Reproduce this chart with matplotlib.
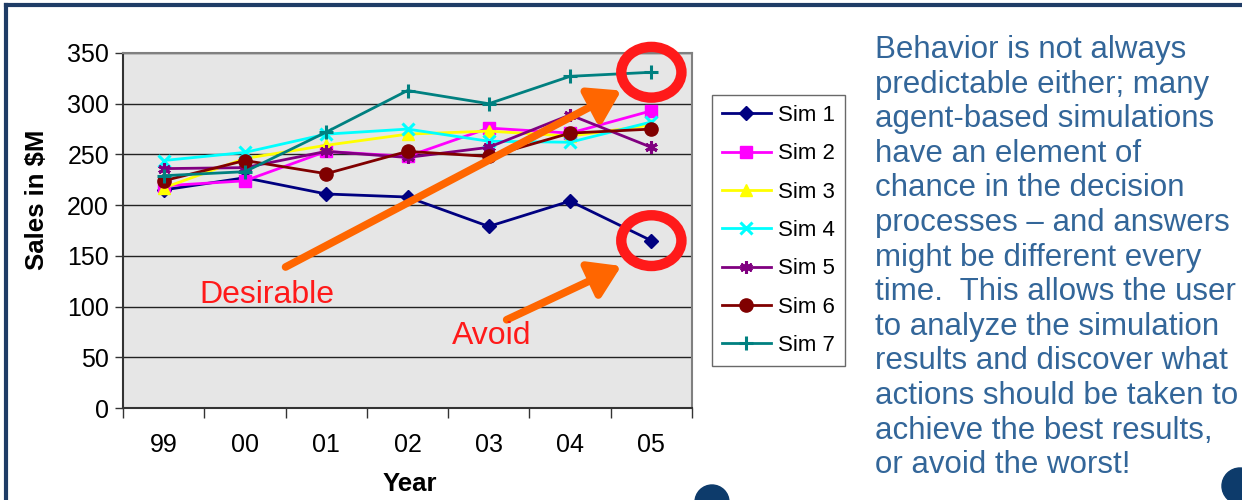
import numpy as np
import matplotlib
matplotlib.use("Agg")
from matplotlib import pyplot as plt
from matplotlib.patches import Ellipse, FancyArrowPatch
from matplotlib.lines import Line2D

plt.rcParams['font.family'] = ['Liberation Sans', 'DejaVu Sans']

years = ['99', '00', '01', '02', '03', '04', '05']
sim_names = ['Sim 1', 'Sim 2', 'Sim 3', 'Sim 4', 'Sim 5', 'Sim 6', 'Sim 7']
sim1 = [215, 227, 211, 208, 179, 204, 165]
sim2 = [219, 224, 253, 248, 276, 271, 293]
sim3 = [217, 246, 259, 270, 273, 268, 279]
sim4 = [244, 252, 270, 275, 263, 262, 282]
sim5 = [236, 237, 253, 247, 257, 289, 257]
sim6 = [224, 244, 231, 253, 248, 271, 275]
sim7 = [229, 233, 272, 313, 300, 327, 331]

body_lines = [
    "Behavior is not always",
    "predictable either; many",
    "agent-based simulations",
    "have an element of",
    "chance in the decision",
    "processes \u2013 and answers",
    "might be different every",
    "time.  This allows the user",
    "to analyze the simulation",
    "results and discover what",
    "actions should be taken to",
    "achieve the best results,",
    "or avoid the worst!",
]

series = [sim1, sim2, sim3, sim4, sim5, sim6, sim7]
colors = ['#000080', '#ff00ff', '#ffff00', '#00ffff', '#800080', '#800000', '#008080']
markers = ['D', 's', '^', 'x', (6, 2, 0), 'o', '+']
msizes = [7, 8.5, 8.5, 9, 9, 9.5, 10]

fig = plt.figure(figsize=(12.42, 5), dpi=100)
ax = fig.add_axes([123 / 1242, 1 - 408 / 500, 569 / 1242, 355 / 500])
ax.set_facecolor('#e6e6e6')

x = np.arange(len(years))
for vals, c, m, ms, name in zip(series, colors, markers, msizes, sim_names):
    ax.plot(x, vals, color=c, lw=2.0, marker=m, ms=ms, mew=2.2 if m in ('x', '+', (6, 2, 0)) else 1,
            mec=c, mfc=c, label=name, zorder=3)

ax.set_xlim(-0.5, len(years) - 0.5)
ax.set_ylim(0, 350)
ax.set_yticks(np.arange(0, 351, 50))
ax.grid(axis='y', color='#222222', lw=1, zorder=1)
ax.set_axisbelow(True)
ax.set_xticks(x)
ax.set_xticklabels(years)
ax.set_xticks(np.arange(-0.5, len(years), 1), minor=True)
ax.tick_params(axis='x', which='major', length=0, pad=18, labelsize=18)
ax.tick_params(axis='x', which='minor', length=7, width=1, color='#333333')
ax.tick_params(axis='y', length=6, width=1, color='#333333', labelsize=18, pad=4)
for s in ax.spines.values():
    s.set_color('#808080')
    s.set_linewidth(1.5)
ax.spines['left'].set_color('#333333')
ax.spines['bottom'].set_color('#333333')

fig.text(37 / 1242, 1 - 200 / 500, 'Sales in $M', rotation=90, ha='center', va='center',
         fontsize=18.5, fontweight='bold')
fig.text(410 / 1242, 1 - 484 / 500, 'Year', ha='center', va='center',
         fontsize=18.5, fontweight='bold')

leg = ax.legend(loc='upper left', bbox_to_anchor=(712 / 1242, 1 - 95 / 500),
                bbox_transform=fig.transFigure, fontsize=16, frameon=True, fancybox=False,
                handlelength=2.2, labelspacing=0.78, borderpad=0.45, handletextpad=0.3,
                borderaxespad=0)
leg.get_frame().set_edgecolor('#444444')
leg.get_frame().set_linewidth(1)

# red rings around the final Sim 7 and Sim 1 values
last = len(years) - 1
for val in (sim7[-1], sim1[-1]):
    ax.add_patch(Ellipse((last, val), width=0.74, height=50, fill=False,
                         ec='#ff1a1a', lw=7.5, zorder=6, clip_on=False))

# orange arrows
arrow_desirable = ((1.5, 139), (5.63, 313))
arrow_avoid = ((4.22, 87), (5.63, 140))
for tail, tip in (arrow_desirable, arrow_avoid):
    ax.add_patch(FancyArrowPatch(tail, tip, arrowstyle='-|>,head_length=1.1,head_width=0.7',
                                 mutation_scale=17, lw=5.5, color='#ff6600',
                                 zorder=7, clip_on=False, shrinkA=0, shrinkB=0))

ax.text(1.27, 111, 'Desirable', color='#ff1a1a', fontsize=23, ha='center', va='center', zorder=8)
ax.text(4.03, 71, 'Avoid', color='#ff1a1a', fontsize=23, ha='center', va='center', zorder=8)

# right-hand text
for i, line in enumerate(body_lines):
    fig.text(875 / 1242, 1 - (50 + i * 34.6) / 500, line, color='#336699',
             fontsize=22.5, ha='left', va='center')

# slide decoration
fig.add_artist(Line2D([6 / 1242, 1], [1 - 5 / 500, 1 - 5 / 500], color='#1f3c66', lw=3,
                      transform=fig.transFigure))
fig.add_artist(Line2D([6 / 1242, 6 / 1242], [0, 1 - 5 / 500], color='#1f3c66', lw=3,
                      transform=fig.transFigure))
fig.add_artist(Ellipse((712 / 1242, 1 - 502 / 500), width=34 / 1242, height=34 / 500,
                       color='#0d3b6b', transform=fig.transFigure))
fig.add_artist(Ellipse((1240 / 1242, 1 - 486 / 500), width=36 / 1242, height=36 / 500,
                       color='#0d3b6b', transform=fig.transFigure))

fig.savefig('out.png', dpi=100)
